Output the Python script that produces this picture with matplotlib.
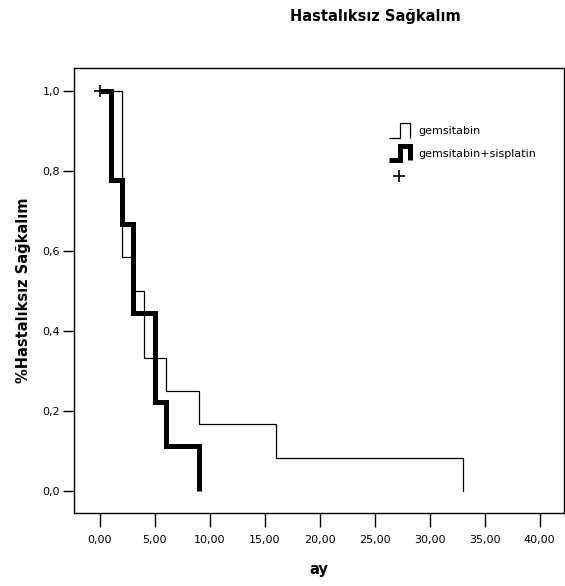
import matplotlib
matplotlib.use("Agg")
import matplotlib.pyplot as plt
from matplotlib.lines import Line2D
from matplotlib.legend_handler import HandlerBase

# Data (Kaplan-Meier step curves)
gem_times = [0, 2, 3, 4, 6, 9, 16, 33]
gem_surv = [1.0, 0.5833, 0.5, 0.3333, 0.25, 0.1667, 0.0833, 0.0]
combo_times = [0, 1, 2, 3, 5, 6, 9]
combo_surv = [1.0, 0.7778, 0.6667, 0.4444, 0.2222, 0.1111, 0.0]
censor_times = [0]
censor_surv = [1.0]

series_labels = ["gemsitabin", "gemsitabin+sisplatin"]
x_ticks = [0, 5, 10, 15, 20, 25, 30, 35, 40]
y_ticks = [0.0, 0.2, 0.4, 0.6, 0.8, 1.0]
title = "Hastalıksız Sağkalım"
xlabel = "ay"
ylabel = "%Hastalıksız Sağkalım"

plt.rcParams['font.family'] = ['DejaVu Sans']

fig = plt.figure(figsize=(5.65, 5.86), dpi=100)
ax = fig.add_axes([0.131, 0.1246, 0.867, 0.760])


def km_xy(times, surv):
    xs, ys = [times[0]], [surv[0]]
    for i in range(1, len(times)):
        xs += [times[i], times[i]]
        ys += [surv[i - 1], surv[i]]
    return xs, ys


gx, gy = km_xy(gem_times, gem_surv)
cx, cy = km_xy(combo_times, combo_surv)
ax.plot(gx, gy, color='black', lw=0.9, solid_joinstyle='miter', zorder=2)
ax.plot(cx, cy, color='black', lw=3.6, solid_joinstyle='miter', solid_capstyle='butt', zorder=3)
ax.plot(censor_times, censor_surv, linestyle='none', marker='+', color='black',
        markersize=8, markeredgewidth=1.2, zorder=4)

ax.set_xlim(-2.32, 42.2)
ax.set_ylim(-0.055, 1.0575)
ax.set_xticks(x_ticks)
ax.set_xticklabels([f"{t:.2f}".replace('.', ',') for t in x_ticks], fontsize=8)
ax.set_yticks(y_ticks)
ax.set_yticklabels([f"{t:.1f}".replace('.', ',') for t in y_ticks], fontsize=8)
ax.tick_params(axis='x', direction='out', length=10, width=1, pad=6)
ax.tick_params(axis='y', direction='out', length=8, width=1, pad=2)
for s in ax.spines.values():
    s.set_linewidth(1)

ax.set_xlabel(xlabel, fontsize=10.5, fontweight='bold', labelpad=12)
ax.set_ylabel(ylabel, fontsize=10.5, fontweight='bold', labelpad=8)
fig.text(375 / 565, 1 - 17 / 586, title, fontsize=10.5, fontweight='bold',
         ha='center', va='center')


class StepHandler(HandlerBase):
    def __init__(self, lw):
        super().__init__()
        self.lw = lw

    def create_artists(self, legend, orig_handle, xdescent, ydescent, width,
                       height, fontsize, trans):
        x0 = -xdescent
        y0 = -ydescent
        xs = [x0, x0 + 0.55 * width, x0 + 0.55 * width, x0 + width, x0 + width]
        ys = [y0, y0, y0 + height, y0 + height, y0]
        ln = Line2D(xs, ys, color='black', lw=self.lw, solid_joinstyle='miter',
                    solid_capstyle='butt')
        ln.set_transform(trans)
        return [ln]


class PlusHandler(HandlerBase):
    def create_artists(self, legend, orig_handle, xdescent, ydescent, width,
                       height, fontsize, trans):
        ln = Line2D([-xdescent + width * 0.5], [-ydescent + height / 2], marker='+',
                    linestyle='none', color='black', markersize=9, markeredgewidth=1.2)
        ln.set_transform(trans)
        return [ln]


h1 = Line2D([], [])
h2 = Line2D([], [])
h3 = Line2D([], [])
leg = ax.legend([h1, h2, h3], series_labels + [""],
                handler_map={h1: StepHandler(0.9), h2: StepHandler(3.6), h3: PlusHandler()},
                loc='upper left', bbox_to_anchor=(0.642, 0.875), frameon=False,
                fontsize=8, handlelength=1.9, handleheight=1.6, handletextpad=0.75,
                labelspacing=0.75, borderpad=0, borderaxespad=0)

fig.savefig("out.png", dpi=100)
